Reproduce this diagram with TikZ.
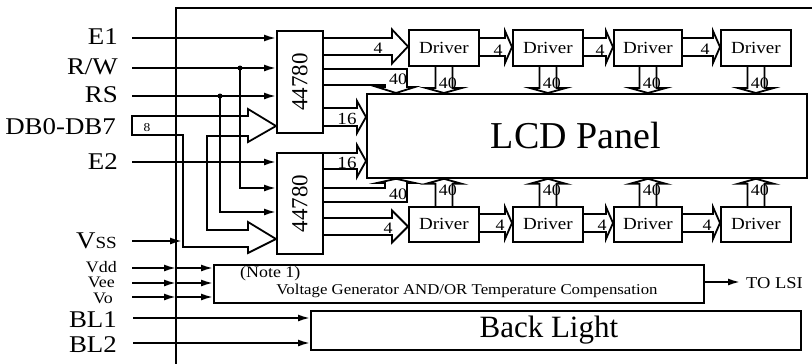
\documentclass[tikz,border=0pt]{standalone}
\usepackage{fontspec}
\setmainfont{Liberation Serif}
\usetikzlibrary{arrows.meta,calc}
\newcommand\fs[1]{\fontsize{#1}{#1}\selectfont}
\newcommand\wide[2]{\scalebox{1.12}[1]{\fs{#1}#2}}
% right-pointing fat arrow: from #1 to #2 at pixel y #3, body half #4, head half #5, head length #6
\newcommand\fatR[6]{%
  \draw[fat] let \p1=(#1), \p2=(#2), \p3=(0,#3) in
   (\x1,{\y3+#4pt}) -- ({\x2-#6pt},{\y3+#4pt}) -- ({\x2-#6pt},{\y3+#5pt}) -- (\x2,\y3)
   -- ({\x2-#6pt},{\y3-#5pt}) -- ({\x2-#6pt},{\y3-#4pt}) -- (\x1,{\y3-#4pt});}
% downward fat arrow from #1 to #2: body half #3, head half #4, head length #5
\newcommand\fatD[5]{%
  \draw[fat] let \p1=(#1), \p2=(#2) in
   ({\x1-#3pt},\y1) -- ({\x1-#3pt},{\y2+#5pt}) -- ({\x1-#4pt},{\y2+#5pt}) -- (\x1,\y2)
   -- ({\x1+#4pt},{\y2+#5pt}) -- ({\x1+#3pt},{\y2+#5pt}) -- ({\x1+#3pt},\y1);}
% upward fat arrow from #1 to #2
\newcommand\fatU[5]{%
  \draw[fat] let \p1=(#1), \p2=(#2) in
   ({\x1-#3pt},\y1) -- ({\x1-#3pt},{\y2-#5pt}) -- ({\x1-#4pt},{\y2-#5pt}) -- (\x1,\y2)
   -- ({\x1+#4pt},{\y2-#5pt}) -- ({\x1+#3pt},{\y2-#5pt}) -- ({\x1+#3pt},\y1);}
\begin{document}
\begin{tikzpicture}[x=1pt,y=-1pt,
  wire/.style={line width=1.8pt},
  arr/.style={wire,-{Latex[length=12pt,width=7pt]}},
  box/.style={draw,line width=1.8pt,inner sep=0pt,anchor=north west},
  fat/.style={line width=1.8pt,line join=miter},
  lbl/.style={inner sep=0pt,anchor=base east},
  txt/.style={inner sep=0pt},
  jdot/.style={circle,fill,inner sep=0pt,minimum size=5pt}]
\useasboundingbox (0,0) rectangle (812,364);

% frame
\coordinate (fb) at (176,364);
\coordinate (ft) at (176,8);
\coordinate (fr) at (812,8);
\draw[wire] (fb) -- (ft) -- (fr);

% controllers
\node[box,minimum width=46pt,minimum height=102pt] (ua) at (276,30) {\rotatebox{90}{\fs{23}44780}};
\node[box,minimum width=46pt,minimum height=101pt] (la) at (276,152) {\rotatebox{90}{\fs{23}44780}};

% LCD panel
\node[box,minimum width=440pt,minimum height=84pt] (lcd) at (366,93) {\fs{38}LCD Panel\hspace*{22pt}};

% drivers
\node[box,minimum width=70pt,minimum height=36pt] (d1) at (408,29) {\wide{17}{Driver}};
\node[box,minimum width=70pt,minimum height=36pt] (d2) at (512,29) {\wide{17}{Driver}};
\node[box,minimum width=68pt,minimum height=36pt] (d3) at (613,29) {\wide{17}{Driver}};
\node[box,minimum width=70pt,minimum height=36pt] (d4) at (720,29) {\wide{17}{Driver}};
\node[box,minimum width=70pt,minimum height=35pt] (e1) at (408,206) {\wide{17}{Driver}};
\node[box,minimum width=70pt,minimum height=35pt] (e2) at (512,206) {\wide{17}{Driver}};
\node[box,minimum width=68pt,minimum height=35pt] (e3) at (613,206) {\wide{17}{Driver}};
\node[box,minimum width=70pt,minimum height=35pt] (e4) at (720,206) {\wide{17}{Driver}};

% voltage generator and back light
\node[box,minimum width=490pt,minimum height=38pt] (vg) at (213,264) {};
\node[txt,anchor=west] (note) at (240,274) {\wide{16}{(Note 1)}};
\node[txt] (vgt) at (467,291) {\wide{15}{Voltage Generator AND/OR Temperature Compensation}};
\node[box,minimum width=490pt,minimum height=39pt] (bl) at (310,310) {\hspace*{-14pt}\fs{31}Back Light};

% input labels
\node[lbl] (lE1) at (118,44) {\wide{24}{E1}};
\node[lbl] (lRW) at (118,74) {\wide{24}{R/W}};
\node[lbl] (lRS) at (118,102) {\wide{24}{RS}};
\node[lbl] (lDB) at (116,134) {\wide{24}{DB0-DB7}};
\node[lbl] (lE2) at (118,169) {\wide{24}{E2}};
\node[lbl] (lVss) at (117,248) {\wide{24}{V{\fs{17}SS}}};
\node[lbl] (lVdd) at (117,272) {\wide{16}{Vdd}};
\node[lbl] (lVee) at (115,287) {\wide{16}{Vee}};
\node[lbl] (lVo) at (113,303) {\wide{16}{Vo}};
\node[lbl] (lBL1) at (117,327) {\wide{24}{BL1}};
\node[lbl] (lBL2) at (117,352) {\wide{24}{BL2}};

% input line starts
\coordinate (iE1) at (132,38);
\coordinate (iRW) at (132,68);
\coordinate (iRS) at (132,96);
\coordinate (iE2) at (132,162);
\coordinate (iVss) at (132,241);
\coordinate (iVdd) at (132,268);
\coordinate (iVee) at (132,283);
\coordinate (iVo) at (132,297);
\coordinate (iBL1) at (133,318);
\coordinate (iBL2) at (133,343);

% control lines
\draw[arr] (iE1) -- (iE1 -| ua.west);
\draw[arr] (iRW) -- (iRW -| ua.west);
\draw[arr] (iRS) -- (iRS -| ua.west);
\draw[arr] (iE2) -- (iE2 -| la.west);
\node[jdot] (jRW) at (240,68) {};
\node[jdot] (jRS) at (220,96) {};
\coordinate (kRW) at (240,188);
\coordinate (kRS) at (220,212);
\draw[arr] (jRW.center) -- (kRW) -- (kRW -| la.west);
\draw[arr] (jRS.center) -- (kRS) -- (kRS -| la.west);

% data bus
\draw[wire,line join=miter] (132,116) -- (248,116) -- (248,109) -- (ua.west |- 0,126) -- (248,142) -- (248,136)
  -- (207,136) -- (207,230) -- (248,230) -- (248,222) -- (la.west |- 0,239) -- (248,253) -- (248,247)
  -- (183,247) -- (183,135) -- (132,135) -- cycle;
\node[txt] (l8) at (147,128) {\wide{12}{8}};

% Vss
\coordinate (tVss) at (182,241);
\draw[arr] (iVss) -- (tVss);

% supplies
\coordinate (cVdd) at (176,268);
\coordinate (cVee) at (176,283);
\coordinate (cVo) at (176,297);
\draw[arr] (iVdd) -- (cVdd);
\draw[arr] (cVdd) -- (cVdd -| vg.west);
\draw[arr] (iVee) -- (cVee);
\draw[arr] (cVee) -- (cVee -| vg.west);
\draw[arr] (iVo) -- (cVo);
\draw[arr] (cVo) -- (cVo -| vg.west);

% back light
\draw[arr] (iBL1) -- (iBL1 -| bl.west);
\draw[arr] (iBL2) -- (iBL2 -| bl.west);

% to LSI
\coordinate (oLSI) at (740,282);
\draw[arr] (oLSI -| vg.east) -- (oLSI);
\node[txt,anchor=west] (tLSI) at (746,283) {\wide{16.5}{TO LSI}};

% controller -> first driver (4)
\fatR{ua.east}{d1.west}{46.5}{8.5}{17}{16}
\fatR{la.east}{e1.west}{226.5}{8.5}{16}{16}
\node[txt] at (378,48) {\wide{16}{4}};
\node[txt] at (388,228) {\wide{16}{4}};

% driver chains (4)
\fatR{d1.east}{d2.west}{47}{9}{16}{7}
\fatR{d2.east}{d3.west}{47}{9}{16}{7}
\fatR{d3.east}{d4.west}{47}{9}{16}{7}
\fatR{e1.east}{e2.west}{223}{9}{16}{7}
\fatR{e2.east}{e3.west}{223}{9}{16}{7}
\fatR{e3.east}{e4.west}{223}{9}{16}{7}
\node[txt] at (498,50) {\wide{16}{4}};
\node[txt] at (600,50) {\wide{16}{4}};
\node[txt] at (705,49) {\wide{16}{4}};
\node[txt] at (500,225) {\wide{16}{4}};
\node[txt] at (602,225) {\wide{16}{4}};
\node[txt] at (707,225) {\wide{16}{4}};

% controller -> LCD (16)
\fatR{ua.east}{lcd.west}{117}{9}{16}{9}
\fatR{la.east}{lcd.west}{161}{8}{16}{9}
\node[txt] at (347,119) {\wide{17}{16}};
\node[txt] at (347,163) {\wide{17}{16}};

% controller -> LCD (40), bent
\draw[fat] (ua.east |- 0,69) -- (407,69) -- (407,87) -- (415,87) -- (396,0 |- lcd.north) -- (377,87) -- (385,87) -- (385,85) -- (ua.east |- 0,85);
\draw[fat] (la.east |- 0,202) -- (407,202) -- (407,183) -- (415,183) -- (396,0 |- lcd.south) -- (377,183) -- (385,183) -- (385,188) -- (la.east |- 0,188);
\node[txt] at (398,79) {\wide{16}{40}};
\node[txt] at (398,194) {\wide{16}{40}};

% drivers -> LCD (40)
\fatD{d1.south}{d1.south |- lcd.north}{8.5}{18}{5}
\fatD{d2.south}{d2.south |- lcd.north}{8.5}{18}{5}
\fatD{d3.south}{d3.south |- lcd.north}{8.5}{18}{5}
\fatD{d4.south}{d4.south |- lcd.north}{8.5}{18}{5}
\fatU{e1.north}{e1.north |- lcd.south}{8.5}{18}{5}
\fatU{e2.north}{e2.north |- lcd.south}{8.5}{18}{5}
\fatU{e3.north}{e3.north |- lcd.south}{8.5}{18}{5}
\fatU{e4.north}{e4.north |- lcd.south}{8.5}{18}{5}
\foreach \d in {d1,d2,d3,d4}{\node[txt] at ($(\d.south)+(4,16)$) {\wide{16}{40}};}
\foreach \d in {e1,e2,e3,e4}{\node[txt] at ($(\d.north)+(4,-16)$) {\wide{16}{40}};}
\end{tikzpicture}
\end{document}
